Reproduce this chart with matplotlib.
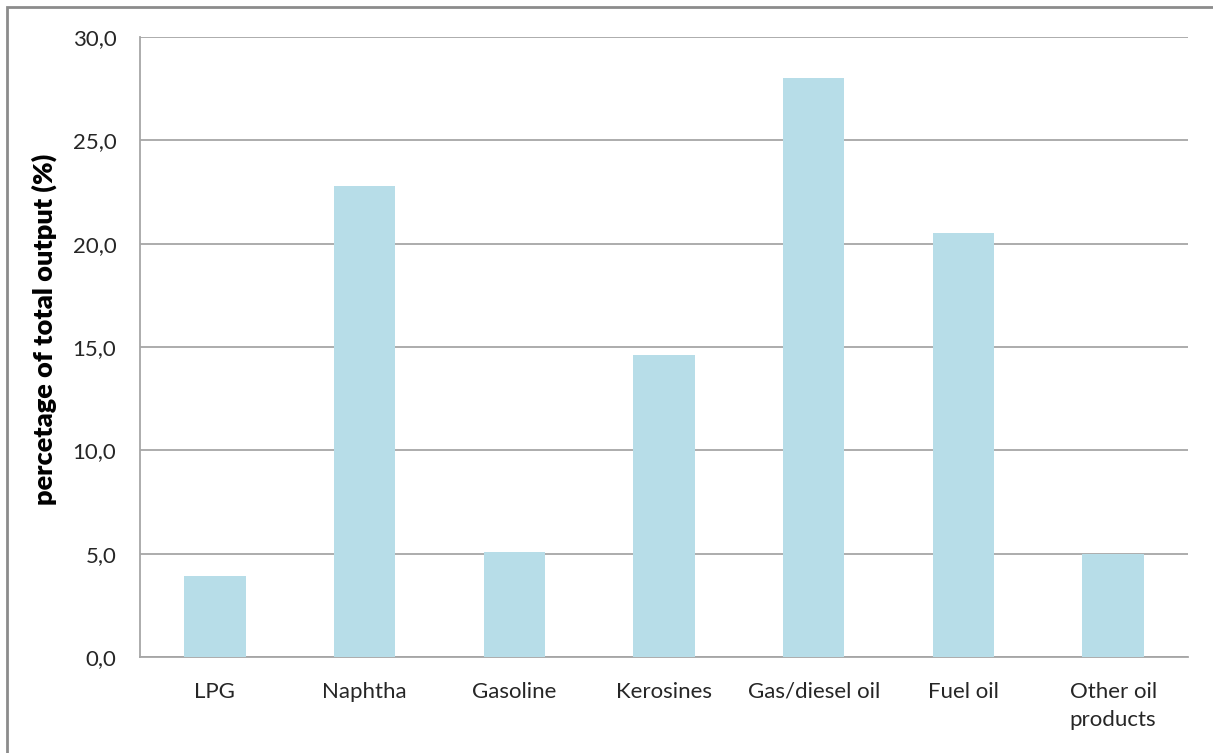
import matplotlib
matplotlib.use("Agg")
import matplotlib.pyplot as plt
from matplotlib.patches import Rectangle

categories = ["LPG", "Naphtha", "Gasoline", "Kerosines", "Gas/diesel oil", "Fuel oil", "Other oil\nproducts"]
values = [3.9, 22.8, 5.1, 14.6, 28.0, 20.5, 5.0]
y_ticks = [0, 5, 10, 15, 20, 25, 30]
y_label = "percetage of total output (%)"

plt.rcParams['font.family'] = ['Lato', 'DejaVu Sans']

W, H = 1213, 753
fig = plt.figure(figsize=(W / 100, H / 100), dpi=100)
ax = fig.add_axes([140 / W, (H - 657) / H, (1188 - 140) / W, 620 / H])

x = list(range(len(categories)))
ax.bar(x, values, width=0.41, color="#B7DDE8", zorder=3)
ax.set_xlim(-0.5, len(categories) - 0.5)
ax.set_ylim(0, 30)
ax.set_yticks(y_ticks)
ax.set_yticklabels([f"{v:.1f}".replace(".", ",") for v in y_ticks])
ax.set_xticks(x)
ax.set_xticklabels(categories, linespacing=1.5)
ax.yaxis.grid(True, color="#A6A6A6", linewidth=1.3, zorder=0)
ax.tick_params(axis="both", length=0, labelsize=16, colors="#262626")
ax.tick_params(axis="y", pad=17)
ax.tick_params(axis="x", pad=18)
for side in ["top", "right"]:
    ax.spines[side].set_visible(False)
for side in ["left", "bottom"]:
    ax.spines[side].set_color("#A6A6A6")
    ax.spines[side].set_linewidth(1.3)
ax.set_ylabel(y_label, fontsize=19.5, fontweight="heavy", color="black")
ax.yaxis.set_label_coords((57 - 140) / 1048, (657 - 329) / 620)

border = Rectangle((7 / W, -0.05), 1.2, 1 - 7 / H + 0.05, transform=fig.transFigure,
                   fill=False, edgecolor="#8C8C8C", linewidth=2)
fig.add_artist(border)

fig.savefig("out.png", dpi=100)
